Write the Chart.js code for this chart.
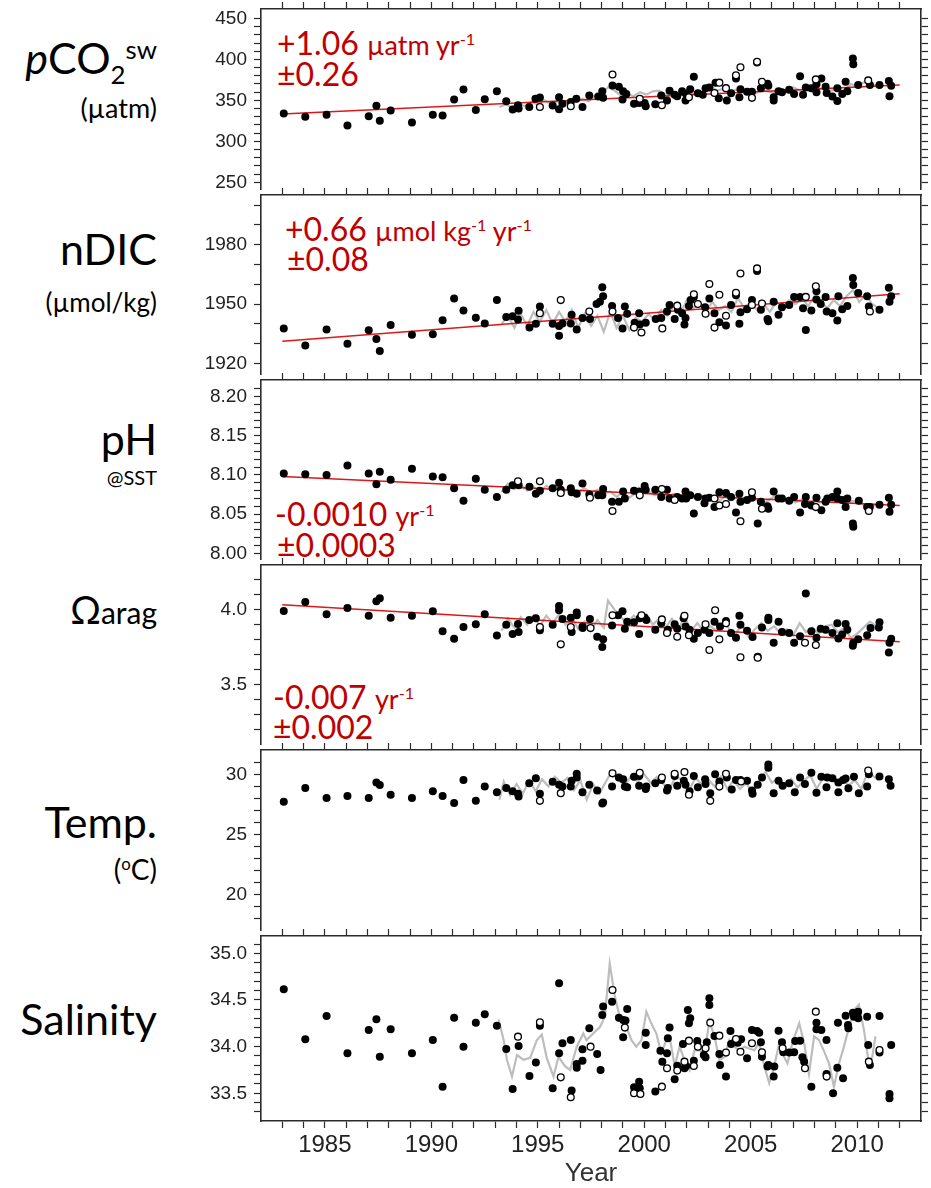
<!DOCTYPE html>
<html>
<head>
<meta charset="utf-8">
<script src="https://cdn.jsdelivr.net/npm/chart.js@4.4.0/dist/chart.umd.min.js"></script>
<style>
  body { margin: 0; background: #fff; width: 931px; height: 1188px; position: relative; overflow: hidden; }
  canvas { position: absolute; left: 0; }
  .lbl { position: absolute; right: 774px; text-align: right; font-family: Lato, sans-serif; color: #000; white-space: nowrap; line-height: 1; }
  .red { position: absolute; font-family: Lato, sans-serif; color: #c00000; white-space: nowrap; line-height: 1; font-size: 32px; }
  .unit { font-size: 27px; }
  sub, sup { font-size: 0.6em; line-height: 0; }
</style>
</head>
<body>
<div class="lbl" style="top:36px;font-size:43px"><i>p</i>CO<sub>2</sub><sup>sw</sup></div>
<div class="lbl" style="top:94px;font-size:27px">(µatm)</div>
<div class="lbl" style="top:227px;font-size:43px">nDIC</div>
<div class="lbl" style="top:289px;font-size:26px">(µmol/kg)</div>
<div class="lbl" style="top:417px;font-size:43px">pH</div>
<div class="lbl" style="top:467px;font-size:20px">@SST</div>
<div class="lbl" style="top:590px;font-size:38px">Ω<span style="font-size:30px">arag</span></div>
<div class="lbl" style="top:800px;font-size:43px">Temp.</div>
<div class="lbl" style="top:855px;font-size:28px">(<sup>o</sup>C)</div>
<div class="lbl" style="top:997px;font-size:43px">Salinity</div>

<div class="red" style="left:277px;top:27px">+1.06 <span class="unit">µatm yr<sup>-1</sup></span></div>
<div class="red" style="left:277px;top:58px">±0.26</div>
<div class="red" style="left:285px;top:213px">+0.66 <span class="unit">µmol kg<sup>-1</sup> yr<sup>-1</sup></span></div>
<div class="red" style="left:287px;top:243px">±0.08</div>
<div class="red" style="left:275px;top:498px">-0.0010 <span class="unit">yr<sup>-1</sup></span></div>
<div class="red" style="left:277px;top:529px">±0.0003</div>
<div class="red" style="left:273px;top:681px">-0.007 <span class="unit">yr<sup>-1</sup></span></div>
<div class="red" style="left:273px;top:711px">±0.002</div>

<script>
// x axis
const yearMin = 1982;
const yearMax = 2013;
const yearTicks = [1985, 1990, 1995, 2000, 2005, 2010];

// sample dates of the early (pre-1994) cruises, shared by all panels
const earlyYears = [1983.07, 1984.08, 1985.08, 1986.06, 1987.06, 1987.42, 1987.58, 1988.09, 1989.09, 1990.07, 1990.53, 1991.07, 1991.51, 1992.09, 1992.51, 1993.08, 1993.52];

// pCO2sw (uatm)
const pco2Ticks = [250, 300, 350, 400, 450];
const pco2Early = [334.1, 329.9, 332.6, 319.2, 330.6, 343.3, 325.1, 337.7, 323.1, 332.6, 331.4, 351.2, 363.4, 338.2, 351.5, 361.0, 348.8];
const pco2Filled = [[1993.82,338.9],[1994.07,344.0],[1994.10,340.0],[1994.6,342.0],[1994.89,351.9],[1995.10,353.5],[1995.7,343.6],[1996.0,353.9],[1996.0,339.3],[1996.16,346.0],[1996.55,348.0],[1996.81,351.9],[1997.1,342.0],[1997.42,355.8],[1997.84,354.6],[1998.03,361.0],[1998.07,353.1],[1998.51,368.1],[1998.81,366.5],[1999.01,361.0],[1998.98,351.1],[1999.16,357.8],[1999.52,346.0],[1999.76,346.8],[2000.02,346.8],[2000.07,342.8],[2000.52,345.2],[2000.8,355.8],[2001.07,349.9],[2001.19,361.7],[2001.43,357.0],[2001.55,355.0],[2001.78,361.0],[2001.94,349.9],[2001.97,357.8],[2002.16,363.7],[2002.33,378.7],[2002.52,358.6],[2002.75,357.0],[2002.88,364.9],[2003.06,365.7],[2003.35,371.6],[2003.5,352.7],[2003.88,349.9],[2004.08,358.6],[2004.31,376.7],[2004.52,363.7],[2004.47,353.9],[2004.83,360.6],[2005.06,360.6],[2005.3,396.1],[2005.48,364.9],[2005.79,370.4],[2005.83,367.7],[2006.08,349.9],[2006.08,353.9],[2006.31,361.0],[2006.47,359.8],[2006.81,362.9],[2007.04,357.8],[2007.32,379.5],[2007.46,357.0],[2007.59,365.7],[2007.85,364.9],[2008.09,369.6],[2008.09,359.8],[2008.32,376.7],[2008.52,366.5],[2008.57,359.0],[2008.84,354.6],[2009.07,364.9],[2009.07,349.1],[2009.3,357.8],[2009.46,372.8],[2009.54,361.0],[2009.8,401.2],[2009.82,394.1],[2010.05,368.8],[2010.6,368.8],[2011.05,368.8],[2011.49,373.6],[2011.52,355.0],[2011.6,367.7]];
const pco2Open = [[1995.10,342.0],[1996.55,342.8],[1998.51,381.5],[1999.79,351.9],[2000.83,344.0],[2002.1,353.9],[2003.3,359.0],[2003.53,371.6],[2003.84,364.9],[2004.31,380.7],[2004.52,390.5],[2005.06,353.1],[2005.3,397.0],[2005.53,372.8],[2008.06,375.6],[2010.52,374.4]];
const pco2Gray = [[1993.2,342],[1993.5,345],[1993.8,341],[1994.1,346],[1994.4,343],[1994.7,348],[1995.0,345],[1995.3,350],[1995.6,346],[1995.9,349],[1996.2,345],[1996.5,351],[1996.8,348],[1997.1,352],[1997.4,349],[1997.7,356],[1998.0,358],[1998.3,366],[1998.6,362],[1998.9,356],[1999.2,358],[1999.5,355],[1999.8,360],[2000.1,357],[2000.4,361],[2000.7,362],[2001.0,357],[2001.3,358],[2001.6,355],[2001.9,360],[2002.2,357],[2002.5,362],[2002.8,360],[2003.1,367],[2003.4,362],[2003.7,364],[2004.0,359],[2004.3,363],[2004.6,360],[2004.9,362],[2005.2,358],[2005.5,363],[2005.8,361],[2006.1,359],[2006.4,364],[2006.7,360],[2007.0,366],[2007.3,362],[2007.6,363],[2007.9,361],[2008.2,365],[2008.5,363],[2008.8,362],[2009.1,364],[2009.4,361],[2009.7,370],[2010.0,367],[2010.3,372],[2010.6,370],[2010.9,368],[2011.2,370]];
const pco2Trend = [[1983.0,333.3],[2012.0,368.8]];

// nDIC (umol/kg)
const ndicTicks = [1920, 1950, 1980];
const ndicEarly = [1937.6, 1929.1, 1937.2, 1929.9, 1936.7, 1932.3, 1926.3, 1939.4, 1934.5, 1934.8, 1941.8, 1952.8, 1946.7, 1943.1, 1940.2, 1952.0, 1943.4];
const ndicFilled = [[1993.82,1943.8],[1994.1,1946.6],[1994.07,1942.2],[1994.61,1938.1],[1994.91,1940.0],[1995.1,1948.7],[1995.7,1940.0],[1996.0,1938.9],[1996.0,1934.0],[1996.16,1940.2],[1996.59,1944.6],[1996.55,1940.2],[1996.83,1937.2],[1997.1,1943.0],[1997.45,1942.5],[1997.76,1950.0],[1997.92,1951.1],[1998.03,1958.5],[1998.07,1953.9],[1998.49,1949.0],[1998.77,1943.0],[1998.98,1937.6],[1999.09,1948.7],[1999.2,1945.1],[1999.55,1940.5],[1999.76,1945.4],[1999.79,1939.7],[2000.07,1940.5],[2000.54,1942.5],[2000.8,1943.0],[2001.07,1946.2],[2001.19,1949.5],[2001.43,1942.5],[2001.58,1947.1],[2001.78,1945.4],[2001.89,1939.7],[2001.94,1943.0],[2002.1,1949.0],[2002.18,1952.0],[2002.33,1953.6],[2002.86,1948.4],[2003.06,1952.8],[2003.3,1945.4],[2003.53,1940.8],[2003.84,1939.2],[2004.08,1949.5],[2004.31,1954.4],[2004.52,1945.9],[2004.47,1940.0],[2004.83,1947.4],[2005.06,1952.0],[2005.3,1966.7],[2005.48,1947.1],[2005.79,1942.5],[2005.83,1941.3],[2006.08,1951.1],[2006.31,1944.6],[2006.47,1948.4],[2006.81,1949.5],[2007.04,1953.6],[2007.32,1953.6],[2007.46,1947.9],[2007.59,1936.9],[2007.85,1946.7],[2008.09,1956.5],[2008.09,1952.3],[2008.29,1950.0],[2008.52,1953.6],[2008.57,1946.2],[2008.84,1945.4],[2009.07,1941.7],[2009.12,1953.9],[2009.3,1947.4],[2009.54,1949.0],[2009.8,1963.1],[2009.82,1959.6],[2010.05,1955.6],[2010.47,1953.9],[2010.55,1948.7],[2011.05,1947.1],[2011.49,1958.2],[2011.52,1951.1],[2011.6,1953.9]];
const ndicOpen = [[1995.1,1945.4],[1996.08,1952.0],[1997.42,1946.2],[1998.51,1946.2],[1999.52,1938.1],[1999.87,1935.6],[2000.85,1937.7],[2001.55,1949.2],[2002.33,1954.9],[2002.52,1950.0],[2002.88,1945.1],[2003.06,1960.1],[2003.3,1938.1],[2003.53,1954.7],[2003.84,1944.1],[2004.31,1955.7],[2004.52,1965.4],[2005.06,1949.5],[2005.3,1968.0],[2005.53,1950.3],[2007.59,1953.6],[2008.06,1959.0],[2010.6,1946.2]];
const ndicGray = [[1993.3,1940],[1993.6,1944],[1993.9,1938],[1994.2,1945],[1994.5,1939],[1994.8,1946],[1995.1,1941],[1995.4,1947],[1995.7,1940],[1996.0,1946],[1996.3,1941],[1996.6,1947],[1996.9,1938],[1997.2,1945],[1997.5,1939],[1997.8,1944],[1998.1,1936],[1998.4,1946],[1998.7,1938],[1999.0,1944],[1999.3,1937],[1999.6,1943],[1999.9,1941],[2000.2,1945],[2000.5,1942],[2000.8,1947],[2001.1,1944],[2001.4,1949],[2001.7,1945],[2002.0,1952],[2002.3,1948],[2002.6,1950],[2002.9,1946],[2003.2,1951],[2003.5,1947],[2003.8,1949],[2004.1,1946],[2004.4,1953],[2004.7,1948],[2005.0,1951],[2005.3,1947],[2005.6,1950],[2005.9,1946],[2006.2,1951],[2006.5,1948],[2006.8,1952],[2007.1,1950],[2007.4,1953],[2007.7,1949],[2008.0,1954],[2008.3,1951],[2008.6,1948],[2008.9,1952],[2009.2,1949],[2009.5,1954],[2009.8,1957],[2010.1,1951],[2010.4,1955],[2010.7,1950],[2011.0,1948]];
const ndicTrend = [[1983.0,1931.2],[2012.0,1955.2]];

// pH @ SST
const phTicks = [8.00, 8.05, 8.10, 8.15, 8.20];
const phEarly = [8.102, 8.101, 8.100, 8.112, 8.102, 8.088, 8.104, 8.094, 8.108, 8.098, 8.097, 8.083, 8.067, 8.095, 8.081, 8.072, 8.081];
const phFilled = [[1993.82,8.087],[1994.1,8.087],[1994.61,8.085],[1994.91,8.076],[1995.1,8.080],[1995.7,8.083],[1996.0,8.090],[1996.08,8.081],[1996.55,8.083],[1996.59,8.078],[1996.83,8.076],[1997.1,8.089],[1997.42,8.075],[1997.84,8.074],[1998.07,8.082],[1998.03,8.074],[1998.49,8.066],[1998.81,8.066],[1999.01,8.079],[1999.09,8.070],[1999.52,8.080],[1999.76,8.079],[2000.02,8.086],[2000.07,8.081],[2000.52,8.081],[2000.8,8.072],[2001.07,8.081],[2001.19,8.070],[2001.55,8.072],[2001.78,8.070],[2001.94,8.079],[2001.97,8.070],[2002.16,8.074],[2002.33,8.051],[2002.52,8.072],[2002.83,8.064],[2002.88,8.070],[2003.06,8.071],[2003.3,8.059],[2003.53,8.078],[2003.84,8.077],[2004.08,8.072],[2004.31,8.052],[2004.47,8.076],[2004.52,8.066],[2004.83,8.068],[2005.06,8.071],[2005.33,8.038],[2005.48,8.066],[2005.79,8.060],[2005.83,8.057],[2006.08,8.079],[2006.31,8.070],[2006.47,8.070],[2006.81,8.067],[2007.04,8.072],[2007.32,8.052],[2007.59,8.072],[2007.55,8.063],[2007.85,8.061],[2008.09,8.071],[2008.32,8.055],[2008.52,8.066],[2008.6,8.070],[2008.84,8.072],[2009.07,8.079],[2009.07,8.070],[2009.3,8.068],[2009.46,8.059],[2009.54,8.070],[2009.8,8.038],[2009.82,8.034],[2010.08,8.067],[2010.47,8.059],[2010.6,8.059],[2011.05,8.062],[2011.49,8.071],[2011.52,8.053],[2011.6,8.062]];
const phOpen = [[1994.07,8.092],[1995.1,8.092],[1996.08,8.077],[1997.45,8.071],[1998.51,8.054],[1999.79,8.074],[2000.83,8.082],[2001.43,8.068],[2003.3,8.070],[2003.53,8.061],[2003.84,8.063],[2004.52,8.041],[2005.06,8.078],[2005.53,8.057],[2008.06,8.059],[2010.55,8.054]];
const phGray = [[1993.3,8.078],[1993.6,8.089],[1993.9,8.082],[1994.2,8.088],[1994.5,8.080],[1994.8,8.085],[1995.1,8.079],[1995.4,8.086],[1995.7,8.081],[1996.0,8.087],[1996.3,8.080],[1996.6,8.084],[1996.9,8.078],[1997.2,8.083],[1997.5,8.077],[1997.8,8.081],[1998.1,8.076],[1998.4,8.079],[1998.7,8.072],[1999.0,8.078],[1999.3,8.071],[1999.6,8.077],[1999.9,8.081],[2000.2,8.079],[2000.5,8.074],[2000.8,8.077],[2001.1,8.073],[2001.4,8.076],[2001.7,8.070],[2002.0,8.075],[2002.3,8.071],[2002.6,8.076],[2002.9,8.069],[2003.2,8.073],[2003.5,8.067],[2003.8,8.072],[2004.1,8.069],[2004.4,8.072],[2004.7,8.066],[2005.0,8.070],[2005.3,8.068],[2005.6,8.064],[2005.9,8.069],[2006.2,8.074],[2006.5,8.068],[2006.8,8.071],[2007.1,8.065],[2007.4,8.069],[2007.7,8.063],[2008.0,8.068],[2008.3,8.065],[2008.6,8.069],[2008.9,8.066],[2009.2,8.070],[2009.5,8.064],[2009.8,8.067],[2010.1,8.065],[2010.4,8.061],[2010.7,8.063],[2011.0,8.060]];
const phTrend = [[1983.0,8.098],[2012.0,8.061]];

// Omega aragonite
const omegaTicks = [3.5, 4.0];
const omegaEarly = [3.991, 4.050, 3.970, 4.011, 3.959, 4.056, 4.075, 3.946, 3.959, 3.989, 3.856, 3.806, 3.884, 3.903, 3.970, 3.828, 3.899];
const omegaFilled = [[1993.82,3.838],[1994.07,3.905],[1994.1,3.851],[1994.6,3.931],[1994.91,3.942],[1995.1,3.862],[1995.7,3.899],[1996.0,4.024],[1996.0,3.996],[1996.16,3.937],[1996.55,3.946],[1996.59,3.851],[1996.83,3.981],[1996.83,3.963],[1997.1,3.888],[1997.11,3.877],[1997.45,3.937],[1997.79,3.819],[1998.03,3.752],[1998.07,3.802],[1998.49,3.894],[1998.77,3.963],[1998.98,3.989],[1999.09,3.873],[1999.2,3.920],[1999.52,3.916],[1999.76,3.838],[1999.79,3.942],[2000.02,3.946],[2000.1,3.931],[2000.52,3.866],[2000.8,3.909],[2001.11,3.866],[2001.43,3.903],[2001.55,3.873],[2001.85,3.942],[2001.94,3.888],[2002.13,3.866],[2002.33,3.806],[2002.52,3.845],[2002.83,3.866],[2003.06,3.845],[2003.3,3.920],[2003.56,3.888],[2003.84,3.925],[2004.08,3.845],[2004.31,3.813],[2004.47,3.959],[2004.52,3.899],[2004.83,3.860],[2005.09,3.817],[2005.33,3.687],[2005.53,3.881],[2005.83,3.946],[2005.83,3.931],[2006.08,3.780],[2006.31,3.920],[2006.47,3.851],[2006.81,3.845],[2007.04,3.780],[2007.32,3.823],[2007.59,4.108],[2007.85,3.856],[2008.09,3.813],[2008.29,3.873],[2008.52,3.866],[2008.84,3.845],[2009.07,3.909],[2009.12,3.808],[2009.3,3.834],[2009.46,3.905],[2009.54,3.866],[2009.8,3.759],[2009.82,3.780],[2010.05,3.802],[2010.47,3.830],[2010.63,3.877],[2011.05,3.916],[2011.02,3.881],[2011.49,3.715],[2011.52,3.780],[2011.6,3.806]];
const omegaOpen = [[1995.1,3.884],[1996.08,3.769],[1996.55,3.884],[1997.48,3.877],[1998.51,3.963],[1999.87,3.963],[2000.83,3.935],[2001.07,3.845],[2001.55,3.819],[2001.89,3.959],[2002.1,3.830],[2002.88,3.903],[2003.06,3.731],[2003.33,3.996],[2003.53,3.802],[2003.84,3.909],[2004.52,3.683],[2005.33,3.680],[2007.55,3.780],[2008.06,3.765]];
const omegaGray = [[1993.3,3.86],[1993.6,3.94],[1993.9,3.88],[1994.2,3.95],[1994.5,3.90],[1994.8,3.96],[1995.1,3.89],[1995.4,3.96],[1995.7,3.91],[1996.0,3.97],[1996.3,3.90],[1996.6,3.95],[1996.9,3.87],[1997.2,3.92],[1997.5,3.86],[1997.8,3.93],[1998.1,3.88],[1998.3,4.06],[1998.6,4.00],[1998.9,3.95],[1999.2,3.91],[1999.5,3.96],[1999.8,3.93],[2000.1,3.97],[2000.4,3.90],[2000.7,3.94],[2001.0,3.88],[2001.3,3.94],[2001.6,3.87],[2001.9,3.95],[2002.2,3.86],[2002.5,3.91],[2002.8,3.85],[2003.1,3.89],[2003.4,3.86],[2003.7,3.92],[2004.0,3.87],[2004.3,3.84],[2004.6,3.90],[2004.9,3.82],[2005.2,3.87],[2005.5,3.91],[2005.8,3.86],[2006.1,3.89],[2006.4,3.84],[2006.7,3.87],[2007.0,3.83],[2007.3,3.91],[2007.6,3.85],[2007.9,3.88],[2008.2,3.84],[2008.5,3.89],[2008.8,3.90],[2009.1,3.85],[2009.4,3.88],[2009.7,3.81],[2010.0,3.84],[2010.3,3.88],[2010.6,3.92],[2010.9,3.89]];
const omegaTrend = [[1983.0,4.032],[2012.0,3.787]];

// Temperature (degC)
const tempTicks = [20, 25, 30];
const tempEarly = [27.72, 28.87, 28.04, 28.2, 28.04, 29.33, 29.11, 28.31, 28.04, 28.6, 28.2, 27.63, 29.52, 27.8, 29.0, 28.52, 28.87];
const tempFilled = [[1993.82,28.6],[1994.1,28.17],[1994.07,28.39],[1994.6,29.27],[1994.91,29.68],[1995.1,28.39],[1995.7,29.38],[1996.0,29.14],[1996.16,28.98],[1996.55,29.0],[1996.59,29.46],[1996.83,30.05],[1996.83,29.73],[1997.1,28.52],[1997.42,29.14],[1997.79,28.66],[1998.03,27.58],[1998.07,27.66],[1998.49,29.0],[1998.81,29.73],[1999.01,29.6],[1999.09,28.98],[1999.2,28.93],[1999.52,29.79],[1999.76,29.87],[1999.76,29.06],[2000.07,28.79],[2000.1,28.98],[2000.52,29.25],[2000.8,29.52],[2001.07,28.66],[2001.11,28.87],[2001.43,29.87],[2001.55,29.06],[2001.86,29.46],[2001.94,29.14],[2002.13,28.6],[2002.33,29.87],[2002.52,28.93],[2002.86,29.6],[2002.88,29.19],[2003.1,28.44],[2003.33,30.0],[2003.53,29.41],[2003.88,29.73],[2004.11,28.74],[2004.31,29.54],[2004.52,29.52],[2004.83,29.46],[2005.06,28.66],[2005.09,28.39],[2005.33,29.14],[2005.53,29.73],[2005.83,30.81],[2005.83,30.54],[2006.08,28.44],[2006.31,29.46],[2006.5,29.06],[2006.81,29.25],[2007.07,28.52],[2007.32,29.73],[2007.55,29.19],[2007.85,30.13],[2008.09,28.47],[2008.32,29.79],[2008.56,28.93],[2008.6,29.73],[2008.84,29.68],[2009.12,29.33],[2009.12,28.52],[2009.34,29.52],[2009.46,29.65],[2009.59,28.85],[2009.85,29.79],[2010.08,28.44],[2010.55,30.0],[2010.47,28.98],[2011.05,29.81],[2011.49,29.6],[2011.57,29.06]];
const tempOpen = [[1995.1,27.8],[1996.08,28.44],[1998.51,30.08],[1999.79,30.13],[2000.83,29.73],[2001.43,30.05],[2001.89,30.19],[2002.1,28.31],[2003.1,27.8],[2003.53,28.98],[2003.84,30.05],[2004.55,29.41],[2010.52,30.32]];
const tempGray = [[1993.2,27.9],[1993.4,29.4],[1993.7,28.3],[1994.0,29.2],[1994.3,28.4],[1994.6,29.5],[1994.9,28.6],[1995.2,29.6],[1995.5,29.0],[1995.8,29.8],[1996.1,29.3],[1996.4,29.7],[1996.7,28.7],[1997.0,29.5],[1997.3,27.9],[1997.6,29.2],[1997.9,28.4],[1998.2,29.4],[1998.5,30.3],[1998.8,29.5],[1999.1,29.1],[1999.4,29.9],[1999.7,29.4],[2000.0,30.0],[2000.3,29.3],[2000.6,29.8],[2000.9,29.2],[2001.2,28.8],[2001.5,29.9],[2001.8,29.4],[2002.1,28.6],[2002.4,29.7],[2002.7,29.2],[2003.0,29.6],[2003.3,29.0],[2003.6,29.8],[2003.9,28.8],[2004.2,29.5],[2004.5,28.8],[2004.8,29.3],[2005.1,28.3],[2005.4,29.5],[2005.7,30.2],[2006.0,29.3],[2006.3,29.7],[2006.6,28.9],[2006.9,29.6],[2007.2,28.9],[2007.5,29.5],[2007.8,29.9],[2008.1,28.8],[2008.4,29.7],[2008.7,29.9],[2009.0,29.3],[2009.3,29.6],[2009.6,29.1],[2009.9,29.5],[2010.2,28.8],[2010.5,30.2],[2010.8,29.8],[2011.0,29.5]];

// Salinity
const salTicks = [33.5, 34.0, 34.5, 35.0];
const salEarly = [34.614, 34.079, 34.329, 33.929, 34.179, 34.293, 33.893, 34.186, 33.929, 34.071, 33.571, 34.311, 34.0, 34.257, 34.346, 34.225, 33.975];
const salFilled = [[1993.82,33.546],[1994.1,34.007],[1994.61,33.686],[1994.91,33.829],[1995.1,34.225],[1995.7,33.554],[1996.0,34.679],[1996.0,33.929],[1996.16,34.036],[1996.55,34.071],[1996.59,33.529],[1996.83,33.814],[1996.83,33.775],[1997.1,33.971],[1997.1,33.85],[1997.42,34.196],[1997.79,33.921],[1997.95,33.75],[1998.03,34.339],[1998.07,34.429],[1998.49,34.482],[1998.81,34.311],[1999.01,34.286],[1999.01,34.1],[1999.2,34.404],[1999.12,34.279],[1999.52,33.564],[1999.76,33.625],[1999.79,33.554],[2000.07,34.15],[2000.07,34.018],[2000.52,33.518],[2000.76,33.957],[2000.85,33.839],[2001.07,33.929],[2001.19,34.204],[2001.11,34.089],[2001.43,33.65],[2001.55,33.796],[2001.82,34.029],[2001.89,33.768],[2001.97,33.793],[2002.05,34.393],[2002.16,34.304],[2002.1,34.25],[2002.33,33.85],[2002.49,34.061],[2002.8,33.911],[2002.88,33.886],[2002.94,34.046],[2003.06,34.518],[2003.06,34.446],[2003.3,34.114],[2003.53,33.921],[2003.56,33.804],[2003.84,33.679],[2004.05,34.168],[2004.08,34.029],[2004.28,34.064],[2004.39,34.043],[2004.55,34.079],[2004.83,33.875],[2005.06,34.179],[2005.3,34.168],[2005.4,34.15],[2005.48,34.046],[2005.53,33.893],[2005.79,33.786],[2005.83,33.804],[2006.08,33.679],[2006.11,33.786],[2006.31,34.171],[2006.47,34.046],[2006.53,33.939],[2006.81,33.936],[2007.04,33.939],[2007.09,34.061],[2007.32,34.064],[2007.43,33.886],[2007.51,33.839],[2007.85,33.571],[2008.09,34.257],[2008.09,34.186],[2008.32,34.179],[2008.56,34.071],[2008.56,33.707],[2008.87,33.5],[2009.07,33.775],[2009.1,34.257],[2009.34,33.661],[2009.46,34.332],[2009.57,34.232],[2009.59,34.196],[2009.8,34.364],[2009.85,34.321],[2010.05,34.375],[2010.05,34.304],[2010.47,34.321],[2010.52,34.018],[2010.6,33.804],[2011.05,34.329],[2011.05,33.936],[2011.52,33.493],[2011.52,33.446],[2011.6,34.018]];
const salOpen = [[1994.07,34.107],[1995.1,34.261],[1996.08,33.671],[1996.55,33.457],[1997.48,34.0],[1998.51,34.607],[1999.09,34.204],[1999.52,33.5],[1999.82,33.493],[2000.83,33.571],[2001.07,33.768],[2001.55,33.743],[2001.89,33.839],[2002.1,34.064],[2002.33,33.793],[2002.52,34.0],[2002.88,33.982],[2003.1,34.257],[2003.53,34.118],[2003.84,33.936],[2004.31,34.082],[2004.52,33.946],[2005.06,34.036],[2005.53,33.939],[2006.5,33.982],[2007.55,33.768],[2008.06,34.375],[2008.57,33.679],[2010.55,33.839],[2011.05,33.964]];
const salGray = [[1993.16,34.29],[1993.4,34.07],[1993.55,33.86],[1993.79,33.68],[1994.02,33.91],[1994.33,33.86],[1994.64,33.88],[1994.96,34.07],[1995.19,34.13],[1995.42,33.88],[1995.74,33.68],[1995.97,33.89],[1996.28,33.79],[1996.52,33.75],[1996.83,34.0],[1997.14,34.14],[1997.29,34.07],[1997.6,34.14],[1997.92,34.21],[1998.15,34.32],[1998.38,34.89],[1998.62,34.54],[1998.85,34.32],[1999.16,34.21],[1999.4,34.07],[1999.63,34.0],[1999.87,34.07],[2000.1,34.375],[2000.33,34.25],[2000.57,34.14],[2000.8,33.93],[2001.04,34.07],[2001.19,34.11],[2001.43,33.79],[2001.66,34.0],[2001.89,33.86],[2002.13,33.75],[2002.36,33.96],[2002.6,33.96],[2002.83,33.93],[2003.06,34.27],[2003.3,34.11],[2003.53,33.86],[2003.77,33.89],[2004.0,34.07],[2004.23,34.0],[2004.47,33.96],[2004.7,34.0],[2004.94,33.98],[2005.17,33.96],[2005.4,34.04],[2005.64,33.79],[2005.87,33.61],[2006.11,33.79],[2006.34,34.04],[2006.57,33.89],[2006.73,33.82],[2006.96,34.04],[2007.28,34.25],[2007.51,34.04],[2007.74,33.71],[2007.98,34.11],[2008.21,34.07],[2008.45,33.95],[2008.68,33.82],[2008.91,33.57],[2009.15,33.82],[2009.38,34.0],[2009.62,34.21],[2009.85,34.39],[2010.08,34.45],[2010.32,34.18],[2010.55,33.82],[2010.71,33.89],[2010.86,34.11]];

const TOP_PAD = 10;
const LEFT_AXIS = 261;
const RIGHT_AXIS = 10;
const BOTTOM_AXIS = 68;
const INK = '#2b2b2b';

const panels = [
  { top: 9, bottom: 195, min: 241, max: 461.5, step: 10, labels: pco2Ticks, dec: 0, early: pco2Early, filled: pco2Filled, open: pco2Open, gray: pco2Gray, trend: pco2Trend },
  { top: 195, bottom: 380, min: 1914.3, max: 2005.1, step: 10, labels: ndicTicks, dec: 0, early: ndicEarly, filled: ndicFilled, open: ndicOpen, gray: ndicGray, trend: ndicTrend },
  { top: 380, bottom: 565, min: 7.992, max: 8.221, step: 0.01, labels: phTicks, dec: 2, early: phEarly, filled: phFilled, open: phOpen, gray: phGray, trend: phTrend },
  { top: 565, bottom: 750, min: 3.101, max: 4.297, step: 0.1, labels: omegaTicks, dec: 1, early: omegaEarly, filled: omegaFilled, open: omegaOpen, gray: omegaGray, trend: omegaTrend },
  { top: 750, bottom: 936, min: 17.02, max: 32.02, step: 1, labels: tempTicks, dec: 0, early: tempEarly, filled: tempFilled, open: tempOpen, gray: tempGray, trend: null },
  { top: 936, bottom: 1121, min: 33.203, max: 35.186, step: 0.1, labels: salTicks, dec: 1, early: salEarly, filled: salFilled, open: salOpen, gray: salGray, trend: null, last: true },
];

// ticks every `step`, kept strictly inside the frame
function stepTicks(min, max, step) {
  const out = [];
  for (let k = Math.ceil(min / step); k <= Math.floor(max / step); k++) {
    const v = +(k * step).toFixed(4);
    if (v - min > step * 0.3 && max - v > step * 0.3) out.push({ value: v });
  }
  return out;
}

const labelFor = (list, dec) => (v) => list.some((t) => Math.abs(t - v) < 1e-6) ? v.toFixed(dec) : '';
const toXY = (list) => list.map((p) => ({ x: p[0], y: p[1] }));

const frame = { display: true, color: INK, width: 1.6 };
const tickGrid = { drawOnChartArea: false, drawTicks: true, tickLength: 7, tickColor: INK, tickWidth: 1.2 };

const xAxis = (position, showLabels) => ({
  type: 'linear',
  position,
  min: yearMin,
  max: yearMax,
  border: frame,
  grid: tickGrid,
  afterBuildTicks: (s) => { s.ticks = stepTicks(yearMin, yearMax, 1); },
  afterFit: (s) => {
    s.height = position === 'top' ? TOP_PAD : BOTTOM_AXIS;
    s.paddingLeft = 0;
    s.paddingRight = 0;
  },
  ticks: {
    display: showLabels,
    autoSkip: false,
    maxRotation: 0,
    padding: 3,
    color: '#222',
    font: { family: 'Liberation Sans, Arial, sans-serif', size: 24 },
    callback: labelFor(yearTicks, 0),
  },
  title: {
    display: showLabels,
    text: 'Year',
    color: '#333',
    padding: { top: 0, bottom: 0 },
    font: { family: 'Liberation Sans, Arial, sans-serif', size: 26 },
  },
});

const yAxis = (p, position) => ({
  type: 'linear',
  position,
  min: p.min,
  max: p.max,
  border: frame,
  grid: tickGrid,
  afterBuildTicks: (s) => { s.ticks = stepTicks(p.min, p.max, p.step); },
  afterFit: (s) => {
    s.width = position === 'left' ? LEFT_AXIS : RIGHT_AXIS;
    s.paddingTop = 0;
    s.paddingBottom = 0;
  },
  ticks: {
    display: position === 'left',
    autoSkip: false,
    padding: 7,
    color: '#222',
    font: { family: 'Liberation Sans, Arial, sans-serif', size: 19 },
    callback: labelFor(p.labels, p.dec),
  },
});

panels.forEach((p) => {
  const canvas = document.createElement('canvas');
  const height = p.bottom - p.top + TOP_PAD + (p.last ? BOTTOM_AXIS : 0);
  canvas.width = 931;
  canvas.height = height;
  canvas.style.top = (p.top - TOP_PAD) + 'px';
  document.body.appendChild(canvas);

  const filled = earlyYears.map((t, i) => ({ x: t, y: p.early[i] })).concat(toXY(p.filled));

  // first dataset is drawn on top
  const datasets = [
    { data: toXY(p.open), showLine: false, pointRadius: 3.4, pointBackgroundColor: '#fff', pointBorderColor: '#000', pointBorderWidth: 1.3 },
    { data: filled, showLine: false, pointRadius: 4, pointBackgroundColor: '#000', pointBorderColor: '#000', pointBorderWidth: 0 },
  ];
  if (p.trend) {
    datasets.push({ data: toXY(p.trend), showLine: true, borderColor: 'rgba(215,0,0,0.9)', borderWidth: 1.5, pointRadius: 0 });
  }
  datasets.push({ data: toXY(p.gray), showLine: true, borderColor: '#bdbdbd', borderWidth: 2.2, pointRadius: 0, tension: 0 });

  const scales = { y: yAxis(p, 'left'), y2: yAxis(p, 'right') };
  if (p.last) {
    scales.x = xAxis('bottom', true);
    scales.xTop = xAxis('top', false);
  } else {
    scales.x = xAxis('top', false);
  }

  new Chart(canvas.getContext('2d'), {
    type: 'scatter',
    data: { datasets },
    options: {
      responsive: false,
      animation: false,
      devicePixelRatio: 1,
      layout: { padding: 0 },
      plugins: { legend: { display: false }, tooltip: { enabled: false } },
      scales,
    },
  });
});
</script>
</body>
</html>
